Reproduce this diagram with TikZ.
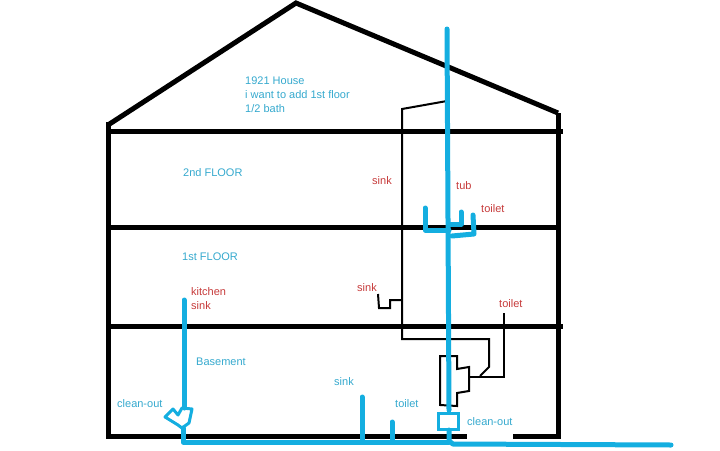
\documentclass[tikz,border=0pt]{standalone}
\usepackage{fontspec}
\setmainfont{Liberation Sans}
\definecolor{pipeblue}{HTML}{14AEE0}
\definecolor{labelblue}{HTML}{35A9CE}
\definecolor{labelred}{HTML}{C63A3A}
\tikzset{
  wall/.style={line width=5pt, black},
  drain/.style={line width=2pt, black, line join=miter},
  pipe/.style={line width=5pt, pipeblue, line cap=round, line join=round},
  bluetext/.style={anchor=west, inner sep=0pt, yshift=-1pt, text=labelblue, font=\fontsize{11}{14}\selectfont, align=left},
  redtext/.style={anchor=west, inner sep=0pt, yshift=-1pt, text=labelred, font=\fontsize{11}{14}\selectfont, align=left}
}
\begin{document}
\begin{tikzpicture}[x=1pt,y=-1pt]
  \useasboundingbox (0,0) rectangle (720,450);
  % house
  \draw[wall] (108,125) -- (296,3) -- (558,113);
  \draw[wall] (108,122) -- (108,436) -- (467,436);
  \draw[wall] (513,436) -- (558,436) -- (558,113);
  \draw[wall] (108,131) -- (563,131);
  \draw[wall] (108,227) -- (561,227);
  \draw[wall] (108,326) -- (563,326);
  % black drains
  \draw[drain] (447,101) -- (402,109) -- (402,339) -- (489,339) -- (489,367) -- (480,376);
  \draw[drain] (378,294) -- (379,308) -- (390,308) -- (390,300) -- (402,300);
  \draw[drain] (504,313) -- (504,377) -- (469,377);
  \draw[drain] (457,369) -- (457,356) -- (440,356) -- (440,405) -- (457,406) -- (457,393) -- (469,391) -- (469,367) -- cycle;
  % blue pipes
  \draw[pipe] (447,29) -- (449,410);
  \draw[pipe] (184,300) -- (184,408);
  \draw[pipe] (183,428) -- (183,442) -- (449,442);
  \draw[pipe] (449,430) -- (449,441) -- (453,444) -- (671,445);
  \draw[pipe] (362,397) -- (362,440);
  \draw[pipe] (392,422) -- (392,440);
  \draw[pipe] (425,208) -- (425,230) -- (449,230);
  \draw[pipe] (461,212) -- (461,224) -- (449,224);
  \draw[pipe] (473,215) -- (474,234) -- (452,236);
  \draw[pipeblue, line width=3pt] (438,413) rectangle (458,429);
  \draw[pipeblue, line width=3pt, line join=round] (165,417) -- (173,409) -- (178,415) -- (182,408) -- (192,409) -- (189,423) -- (182,428) -- (178,425) -- cycle;
  % labels
  \node[bluetext] (title) at (245,94) {1921 House\\i want to add 1st floor\\1/2 bath};
  \node[bluetext] (upper) at (183,172) {2nd FLOOR};
  \node[bluetext] (lower) at (182,256) {1st FLOOR};
  \node[bluetext] (base) at (196,361) {Basement};
  \node[bluetext] (cleanl) at (117,403) {clean-out};
  \node[bluetext] (cleanr) at (467,421) {clean-out};
  \node[bluetext] (bsink) at (334,381) {sink};
  \node[bluetext] (btoilet) at (395,403) {toilet};
  \node[redtext] (kitchen) at (191,298) {kitchen\\sink};
  \node[redtext] (usink) at (372,180) {sink};
  \node[redtext] (tub) at (456,185) {tub};
  \node[redtext] (utoilet) at (481,208) {toilet};
  \node[redtext] (lsink) at (357,287) {sink};
  \node[redtext] (ltoilet) at (499,303) {toilet};
\end{tikzpicture}
\end{document}
